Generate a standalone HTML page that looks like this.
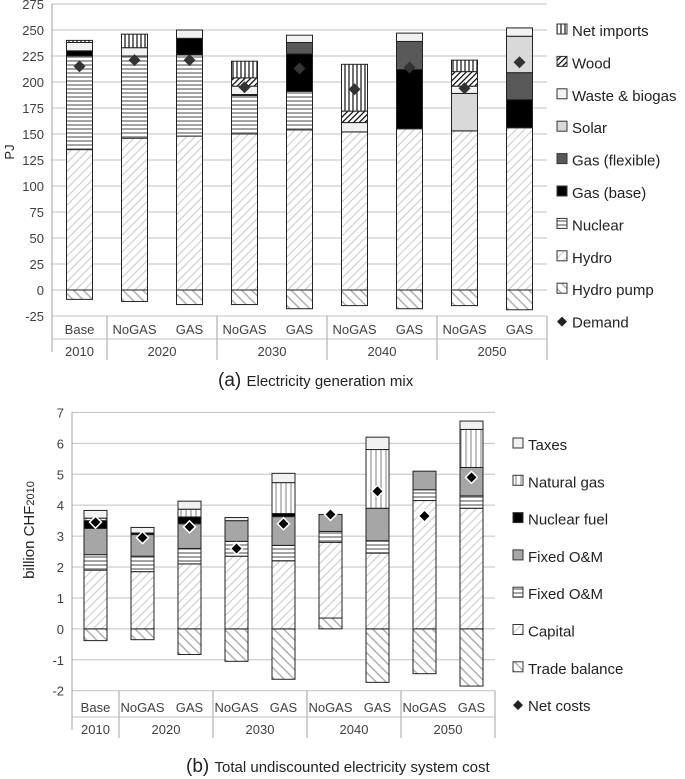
<!DOCTYPE html>
<html><head><meta charset="utf-8"><style>
body{margin:0;background:#fff;font-family:"Liberation Sans",sans-serif;}
svg{display:block}
</style></head><body>
<svg id="c" width="685" height="779" xmlns="http://www.w3.org/2000/svg">
<defs>
<pattern id="pHydro" width="6" height="6" patternUnits="userSpaceOnUse" patternTransform="rotate(45)"><rect width="6" height="6" fill="#fff"/><line x1="0" y1="0" x2="0" y2="6" stroke="#c8c8c8" stroke-width="2"/></pattern>
<pattern id="pPump" width="7" height="7" patternUnits="userSpaceOnUse" patternTransform="rotate(-45)"><rect width="7" height="7" fill="#fff"/><line x1="0" y1="0" x2="0" y2="7" stroke="#b0b0b0" stroke-width="3"/></pattern>
<pattern id="pNuc" width="4" height="4" patternUnits="userSpaceOnUse"><rect width="4" height="4" fill="#fff"/><line x1="0" y1="1" x2="4" y2="1" stroke="#8c8c8c" stroke-width="1.6"/></pattern>
<pattern id="pImp" width="4" height="4" patternUnits="userSpaceOnUse"><rect width="4" height="4" fill="#fff"/><line x1="1" y1="0" x2="1" y2="4" stroke="#404040" stroke-width="1.5"/></pattern>
<pattern id="pGasV" width="5" height="5" patternUnits="userSpaceOnUse"><rect width="5" height="5" fill="#fff"/><line x1="1" y1="0" x2="1" y2="5" stroke="#808080" stroke-width="1"/></pattern>
<pattern id="pWood" width="4" height="4" patternUnits="userSpaceOnUse" patternTransform="rotate(45)"><rect width="4" height="4" fill="#fff"/><line x1="0" y1="0" x2="0" y2="4" stroke="#000" stroke-width="2.4"/></pattern>
</defs>
<text transform="translate(14,152) rotate(-90)" text-anchor="middle" font-size="13" fill="#222">PJ</text>
<text transform="translate(34,530) rotate(-90)" text-anchor="middle" font-size="15" fill="#222">billion CHF<tspan font-size="11">2010</tspan></text>
<text x="218" y="386" font-size="19" fill="#222">(a) <tspan font-size="15">Electricity generation mix</tspan></text>
<text x="186" y="772" font-size="19" fill="#222">(b) <tspan font-size="15">Total undiscounted electricity system cost</tspan></text>
</svg>
<script>
// ---- Chart A data ----
const catsA = ["Base","NoGAS","GAS","NoGAS","GAS","NoGAS","GAS","NoGAS","GAS"];
const yearsA = ["2010","2020","2030","2040","2050"];
const pumpA = [-9,-11,-14,-14,-18,-15,-18,-15,-19];
const hydroA = [135,146,148,150,154,152,155,153,156];
const nuclearA = [90,79,78,37,37,0,0,0,0];
const gasBaseA = [5,0,16,1,36,0,57,0,27];
const gasFlexA = [0,0,0,0,11,0,27,0,26];
const solarA = [0,0,0,0,0,0,0,36,35];
const wasteA = [8,8,8,8,7,9,8,7,8];
const woodA = [0,0,0,8,0,11,0,14,0];
const importsA = [2,13,0,16,0,45,0,11,0];
const demandA = [215,221,221,195,213,193,214,194,219];
const ticksA = [-25,0,25,50,75,100,125,150,175,200,225,250,275];
// ---- Chart B data ----
const tradeB = [-0.38,-0.35,-0.83,-1.05,-1.63,0.35,-1.73,-1.45,-1.85];
const capitalB = [1.9,1.85,2.1,2.35,2.2,2.45,2.45,4.15,3.9];
const omStripeB = [0.5,0.5,0.5,0.48,0.5,0.35,0.4,0.35,0.4];
const omGreyB = [0.85,0.7,0.8,0.67,0.93,0.55,1.05,0.6,0.92];
const nucFuelB = [0.25,0.05,0.22,0,0.1,0,0,0,0];
const natGasB = [0.08,0,0.25,0,1.0,0,1.9,0,1.23];
const taxesB = [0.25,0.18,0.26,0.1,0.3,0,0.4,0,0.27];
const netB = [3.45,2.95,3.3,2.6,3.4,3.7,4.45,3.65,4.9];
const ticksB = [-2,-1,0,1,2,3,4,5,6,7];

const svg=document.getElementById('c');
const NS="http://www.w3.org/2000/svg";
function mk(t,a,p){const e=document.createElementNS(NS,t);for(const k in a)e.setAttribute(k,a[k]);(p||svg).appendChild(e);return e;}

function drawChart(o){
  const g=mk('g',{});
  
  
  const y=v=>o.y0-(v-o.vmin)*o.ppu;
  const bw=(o.x1-o.x0)/o.cats.length;
  const cx=i=>o.x0+bw*(i+0.5);
  o.ticks.forEach(t=>{
    const l=mk('line',{x1:o.x0,x2:o.x1,y1:y(t),y2:y(t),stroke:'#c0c0c0','stroke-width':1},g);
    
    const tx=mk('text',{x:o.x0-8,y:y(t)+5,'text-anchor':'end','font-size':13,fill:'#404040'},g);
    tx.textContent=t;
    
  });
  const ax=mk('line',{x1:o.x0,x2:o.x0,y1:y(o.ticks[o.ticks.length-1]),y2:o.labY+18,stroke:'#a0a0a0'},g);
  
  o.cats.forEach((c,i)=>{
    const w=o.barW, x=cx(i)-w/2;
    let pos=0, neg=0;
    o.series.forEach(s=>{
      const v=s.vals[i]; if(!v) return;
      let top,bot;
      if(v>=0){bot=pos;top=pos+v;pos=top;}else{top=neg;bot=neg+v;neg=bot;}
      const r=mk('rect',{x:x,y:y(top),width:w,height:Math.max(0,y(bot)-y(top)),fill:s.fill,stroke:'#222','stroke-width':1},g);
      
      
    });
    const d=o.marker[i];
    const m=mk('path',{d:`M${cx(i)} ${y(d)-6}L${cx(i)+6} ${y(d)}L${cx(i)} ${y(d)+6}L${cx(i)-6} ${y(d)}Z`,fill:o.mFill,stroke:'#fff','stroke-width':o.mStroke},g);
    
    
    const t=mk('text',{x:cx(i),y:o.labY,'text-anchor':'middle','font-size':13,fill:'#404040'},g);
    t.textContent=c;
    
  });
  const groups=[[0,1],[1,3],[3,5],[5,7],[7,9]];
  groups.forEach((gr,k)=>{
    const xa=o.x0+bw*gr[0], xb=o.x0+bw*gr[1];
    const l=mk('line',{x1:xb,x2:xb,y1:y(o.vmin),y2:o.labY+26,stroke:'#a0a0a0'},g);
    
    const t=mk('text',{x:(xa+xb)/2,y:o.labY+22,'text-anchor':'middle','font-size':13,fill:'#404040'},g);
    t.textContent=o.years[k];
    
  });
  const l2=mk('line',{x1:o.x0,x2:o.x1,y1:o.labY+5,y2:o.labY+5,stroke:'#c0c0c0'},g);
  
  o.legend.forEach((e,k)=>{
    const ly=o.legY+k*o.legStep;
    if(e.marker){
      const m=mk('path',{d:`M${o.legX+5} ${ly-11}L${o.legX+10} ${ly-6}L${o.legX+5} ${ly-1}L${o.legX} ${ly-6}Z`,fill:'#222'},g);
      
    } else {
      const r=mk('rect',{x:o.legX,y:ly-12,width:10,height:10,fill:e.fill,stroke:'#333'},g);
      
    }
    const t=mk('text',{x:o.legX+15,y:ly,'font-size':15,fill:'#222'},g);
    t.textContent=e.label;
    
  });
}
drawChart({name:'chart-generation-mix',cats:catsA,years:yearsA,x0:52,x1:547,y0:316,vmin:-25,ppu:1.04,barW:26,
  ticks:ticksA,labY:334,marker:demandA,mFill:'#333',mStroke:0,
  series:[{key:'hydro-pump',vals:pumpA,fill:'url(#pPump)'},{key:'hydro',vals:hydroA,fill:'url(#pHydro)'},
    {key:'nuclear',vals:nuclearA,fill:'url(#pNuc)'},{key:'gas-base',vals:gasBaseA,fill:'#000'},
    {key:'gas-flex',vals:gasFlexA,fill:'#595959'},{key:'solar',vals:solarA,fill:'#d9d9d9'},
    {key:'waste',vals:wasteA,fill:'#f2f2f2'},{key:'wood',vals:woodA,fill:'url(#pWood)'},{key:'imports',vals:importsA,fill:'url(#pImp)'}],
  legX:557,legY:36,legStep:32.4,
  legend:[{label:'Net imports',fill:'url(#pImp)'},{label:'Wood',fill:'url(#pWood)'},{label:'Waste & biogas',fill:'#f2f2f2'},
    {label:'Solar',fill:'#d9d9d9'},{label:'Gas (flexible)',fill:'#595959'},{label:'Gas (base)',fill:'#000'},
    {label:'Nuclear',fill:'url(#pNuc)'},{label:'Hydro',fill:'url(#pHydro)'},{label:'Hydro pump',fill:'url(#pPump)'},{label:'Demand',marker:true}]});
drawChart({name:'chart-system-cost',cats:catsA,years:yearsA,x0:72,x1:495,y0:690.7,vmin:-2,ppu:30.92,barW:23,
  ticks:ticksB,labY:712,marker:netB,mFill:'#000',mStroke:1.5,
  series:[{key:'trade',vals:tradeB,fill:'url(#pPump)'},{key:'capital',vals:capitalB,fill:'url(#pHydro)'},
    {key:'om-stripe',vals:omStripeB,fill:'url(#pNuc)'},{key:'om-grey',vals:omGreyB,fill:'#a6a6a6'},
    {key:'nuclear-fuel',vals:nucFuelB,fill:'#000'},{key:'natural-gas',vals:natGasB,fill:'url(#pGasV)'},{key:'taxes',vals:taxesB,fill:'#f2f2f2'}],
  legX:513,legY:450,legStep:37.3,
  legend:[{label:'Taxes',fill:'#f2f2f2'},{label:'Natural gas',fill:'url(#pGasV)'},{label:'Nuclear fuel',fill:'#000'},
    {label:'Fixed O&M',fill:'#a6a6a6'},{label:'Fixed O&M',fill:'url(#pNuc)'},{label:'Capital',fill:'url(#pHydro)'},
    {label:'Trade balance',fill:'url(#pPump)'},{label:'Net costs',marker:true}]});
</script>
</body></html>
